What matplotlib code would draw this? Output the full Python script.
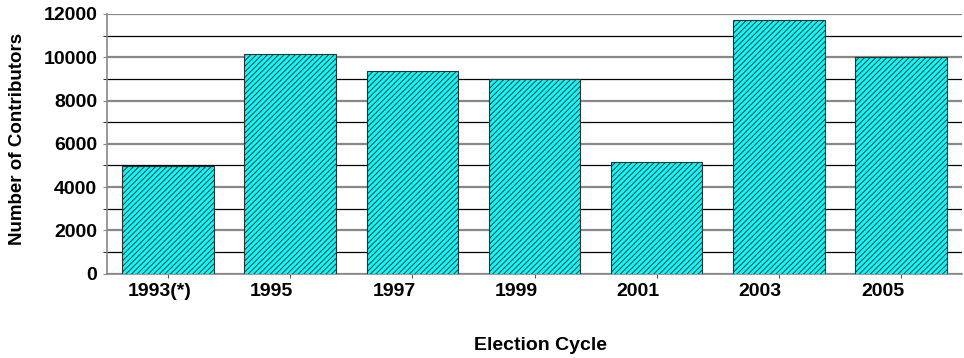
import matplotlib.pyplot as plt
import matplotlib.transforms as mtransforms
from matplotlib.ticker import MultipleLocator

plt.rcParams['font.family'] = ['Liberation Sans', 'DejaVu Sans']
plt.rcParams['hatch.linewidth'] = 0.7
plt.rcParams['hatch.color'] = '#1a4a4a'

cycles = ['1993(*)', '1995', '1997', '1999', '2001', '2003', '2005']
contributors = [4950, 10140, 9350, 9010, 5160, 11710, 10000]

fig = plt.figure(figsize=(9.64, 3.58), dpi=100)
ax = fig.add_axes([107 / 964, 1 - 273.5 / 358, 855 / 964, 259.5 / 358])

x = range(len(cycles))
ax.bar(x, contributors, width=0.75, color='#00FFFF', edgecolor='#303030',
       linewidth=0.8, hatch='//////', zorder=3)

ax.set_xlim(-0.5, len(cycles) - 0.5)
ax.set_ylim(0, 12000)
ax.yaxis.set_major_locator(MultipleLocator(2000))
ax.yaxis.set_minor_locator(MultipleLocator(1000))
ax.grid(axis='y', which='major', color='#888888', linewidth=1.6, zorder=0)
ax.grid(axis='y', which='minor', color='black', linewidth=0.9, zorder=0)

ax.set_xticks(list(x))
ax.set_xticklabels(cycles)
ax.tick_params(axis='x', length=3, color='#555555', labelsize=14, pad=4)
ax.tick_params(axis='y', which='major', length=3, color='#888888', labelsize=14, pad=4)
ax.tick_params(axis='y', which='minor', length=3, color='black')
for lbl in ax.get_yticklabels():
    lbl.set_fontweight('bold')

# excel puts the category labels left-aligned, ~40px left of the tick
shift = mtransforms.ScaledTranslation(-0.40, 0, fig.dpi_scale_trans)
for lbl in ax.get_xticklabels():
    lbl.set_fontweight('bold')
    lbl.set_horizontalalignment('left')
    lbl.set_transform(lbl.get_transform() + shift)

for side in ['top', 'right']:
    ax.spines[side].set_visible(False)
ax.spines['left'].set_color('#888888')
ax.spines['bottom'].set_color('#888888')
ax.spines['left'].set_linewidth(1.2)
ax.spines['bottom'].set_linewidth(1.2)

fig.text(18 / 964, 1 - 139 / 358, 'Number of Contributors', rotation=90,
         ha='center', va='center', fontsize=13.5, fontweight='bold')
fig.text(540 / 964, 1 - 346 / 358, 'Election Cycle', ha='center', va='center',
         fontsize=14, fontweight='bold')

fig.savefig('out.png', dpi=100, facecolor='white')
